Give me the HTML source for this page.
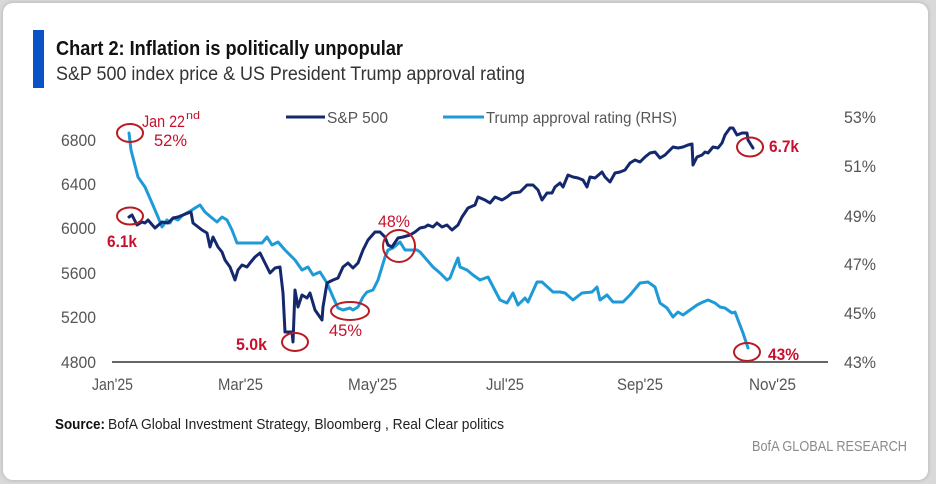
<!DOCTYPE html>
<html>
<head>
<meta charset="utf-8">
<style>
  html,body{margin:0;padding:0;}
  body{width:936px;height:484px;background:#d9d9d9;position:relative;overflow:hidden;}
  .card{position:absolute;left:3px;top:3px;width:925px;height:477px;background:#fff;border-radius:10px;box-shadow:0 0 3px 1px #bdbdbd;}
  svg{position:absolute;left:0;top:0;}
  text{font-family:"Liberation Sans",sans-serif;}
</style>
</head>
<body>
<div class="card"></div>
<svg width="936" height="484" viewBox="0 0 936 484" xmlns="http://www.w3.org/2000/svg">
  <!-- title block -->
  <rect x="33" y="30" width="11" height="58" fill="#0a52c8"/>
  <text x="56" y="55" font-size="20" font-weight="bold" fill="#111" textLength="347" lengthAdjust="spacingAndGlyphs">Chart 2: Inflation is politically unpopular</text>
  <text x="56" y="80" font-size="19" fill="#333" textLength="469" lengthAdjust="spacingAndGlyphs">S&amp;P 500 index price &amp; US President Trump approval rating</text>

  <!-- legend -->
  <line x1="286" y1="117" x2="325" y2="117" stroke="#14286e" stroke-width="3"/>
  <text x="327" y="123" font-size="16" fill="#555" textLength="61" lengthAdjust="spacingAndGlyphs">S&amp;P 500</text>
  <line x1="443" y1="117" x2="484" y2="117" stroke="#1f9ad8" stroke-width="3"/>
  <text x="486" y="123" font-size="16" fill="#555" textLength="191" lengthAdjust="spacingAndGlyphs">Trump approval rating (RHS)</text>

  <!-- left axis labels -->
  <g font-size="17" fill="#555" text-anchor="end">
    <text x="96" y="146" textLength="35" lengthAdjust="spacingAndGlyphs">6800</text>
    <text x="96" y="190" textLength="35" lengthAdjust="spacingAndGlyphs">6400</text>
    <text x="96" y="234" textLength="35" lengthAdjust="spacingAndGlyphs">6000</text>
    <text x="96" y="279" textLength="35" lengthAdjust="spacingAndGlyphs">5600</text>
    <text x="96" y="323" textLength="35" lengthAdjust="spacingAndGlyphs">5200</text>
    <text x="96" y="368" textLength="35" lengthAdjust="spacingAndGlyphs">4800</text>
  </g>
  <!-- right axis labels -->
  <g font-size="17" fill="#555">
    <text x="844" y="123" textLength="32" lengthAdjust="spacingAndGlyphs">53%</text>
    <text x="844" y="172" textLength="32" lengthAdjust="spacingAndGlyphs">51%</text>
    <text x="844" y="222" textLength="32" lengthAdjust="spacingAndGlyphs">49%</text>
    <text x="844" y="270" textLength="32" lengthAdjust="spacingAndGlyphs">47%</text>
    <text x="844" y="319" textLength="32" lengthAdjust="spacingAndGlyphs">45%</text>
    <text x="844" y="368" textLength="32" lengthAdjust="spacingAndGlyphs">43%</text>
  </g>
  <!-- x axis -->
  <line x1="112" y1="362" x2="828" y2="362" stroke="#666" stroke-width="2"/>
  <g font-size="17" fill="#555">
    <text x="92" y="390" textLength="41" lengthAdjust="spacingAndGlyphs">Jan'25</text>
    <text x="218" y="390" textLength="45" lengthAdjust="spacingAndGlyphs">Mar'25</text>
    <text x="348" y="390" textLength="49" lengthAdjust="spacingAndGlyphs">May'25</text>
    <text x="486" y="390" textLength="38" lengthAdjust="spacingAndGlyphs">Jul'25</text>
    <text x="617" y="390" textLength="46" lengthAdjust="spacingAndGlyphs">Sep'25</text>
    <text x="749" y="390" textLength="47" lengthAdjust="spacingAndGlyphs">Nov'25</text>
  </g>

  <!-- approval series -->
  <polyline fill="none" stroke="#1f9ad8" stroke-width="3" stroke-linejoin="round" stroke-linecap="round"
    points="129,133 131,150 138,177 145,187 152,203 158,217 162,227 167,220 170,223 173,218 178,220 183,215 192,210 195,208 200,205 205,212 212,218 217,222 222,217 227,220 232,230 237,243 242,243 262,243 267,237 272,245 278,242 285,250 295,260 302,270 308,267 313,275 320,272 327,283 333,297 338,308 343,310 350,308 353,310 358,307 363,297 367,292 373,290 378,280 382,267 385,257 388,250 393,248 400,242 405,250 410,250 417,250 420,252 427,260 433,267 440,273 447,280 450,278 455,265 458,258 460,267 467,270 473,275 480,280 488,277 500,300 507,303 513,293 518,305 525,298 528,302 537,282 542,282 553,292 560,292 565,293 573,300 582,293 592,292 597,287 600,300 607,295 613,302 623,302 630,295 640,283 648,282 655,287 660,303 667,308 673,317 678,312 683,315 690,310 697,305 703,302 708,300 715,303 720,307 725,308 732,313 735,312 738,320 743,333 748,348"/>

  <!-- S&P series -->
  <polyline fill="none" stroke="#14286e" stroke-width="3" stroke-linejoin="round" stroke-linecap="round"
    points="129,217 132,215 137,225 142,222 145,223 148,220 155,228 162,222 168,223 173,218 178,217 188,213 191,212 193,223 202,230 207,233 210,247 213,237 218,247 222,252 225,260 230,267 235,280 238,270 242,265 247,267 250,263 255,257 260,253 265,263 270,273 275,268 280,267 283,293 285,332 292,332 293,342 295,290 298,307 302,295 307,298 310,293 315,310 322,320 323,307 327,283 333,280 338,278 343,267 348,263 353,268 358,263 363,250 368,240 375,232 380,232 385,237 388,245 392,247 398,238 403,237 410,235 415,232 420,228 425,227 428,225 433,227 437,223 442,227 447,225 452,230 458,225 462,217 468,208 475,205 478,197 485,200 490,203 495,197 502,200 507,197 512,193 520,192 527,185 533,185 538,190 542,200 547,193 552,193 555,187 560,183 563,187 568,175 573,177 578,178 583,180 587,187 590,177 595,178 602,172 605,177 610,182 615,173 620,172 625,170 630,163 635,160 640,162 645,157 650,153 655,152 660,158 665,155 670,150 673,147 678,148 683,147 688,145 692,144 693,165 697,157 702,155 705,152 708,153 713,147 718,148 722,143 725,135 730,128 733,128 737,135 742,133 747,133 748,140 753,148"/>

  <!-- annotation circles -->
  <g fill="none" stroke="#b81c22" stroke-width="2">
    <ellipse cx="130" cy="133" rx="13" ry="9"/>
    <ellipse cx="130" cy="216" rx="13" ry="8.5"/>
    <ellipse cx="295" cy="342" rx="13" ry="9"/>
    <ellipse cx="350" cy="311" rx="19" ry="9"/>
    <ellipse cx="399" cy="246" rx="16" ry="16"/>
    <ellipse cx="750" cy="147" rx="13" ry="9.5"/>
    <ellipse cx="747" cy="352" rx="13" ry="9"/>
  </g>
  <!-- annotation text -->
  <g fill="#c8102e" font-size="17">
    <text x="142" y="127" textLength="43" lengthAdjust="spacingAndGlyphs">Jan 22</text>
    <text x="186" y="119" font-size="11" textLength="14" lengthAdjust="spacingAndGlyphs">nd</text>
    <text x="154" y="146" textLength="33" lengthAdjust="spacingAndGlyphs">52%</text>
    <text x="107" y="247" font-weight="bold" textLength="30" lengthAdjust="spacingAndGlyphs">6.1k</text>
    <text x="236" y="350" font-weight="bold" textLength="31" lengthAdjust="spacingAndGlyphs">5.0k</text>
    <text x="329" y="336" textLength="33" lengthAdjust="spacingAndGlyphs">45%</text>
    <text x="378" y="227" textLength="32" lengthAdjust="spacingAndGlyphs">48%</text>
    <text x="769" y="152" font-weight="bold" textLength="30" lengthAdjust="spacingAndGlyphs">6.7k</text>
    <text x="768" y="360" font-weight="bold" textLength="31" lengthAdjust="spacingAndGlyphs">43%</text>
  </g>

  <!-- source -->
  <text x="55" y="429" font-size="15" font-weight="bold" fill="#111" textLength="50" lengthAdjust="spacingAndGlyphs">Source:</text>
  <text x="108" y="429" font-size="15" fill="#222" textLength="396" lengthAdjust="spacingAndGlyphs">BofA Global Investment Strategy, Bloomberg , Real Clear politics</text>
  <text x="752" y="451" font-size="15" fill="#8a8a8a" textLength="155" lengthAdjust="spacingAndGlyphs">BofA GLOBAL RESEARCH</text>
</svg>
</body>
</html>
